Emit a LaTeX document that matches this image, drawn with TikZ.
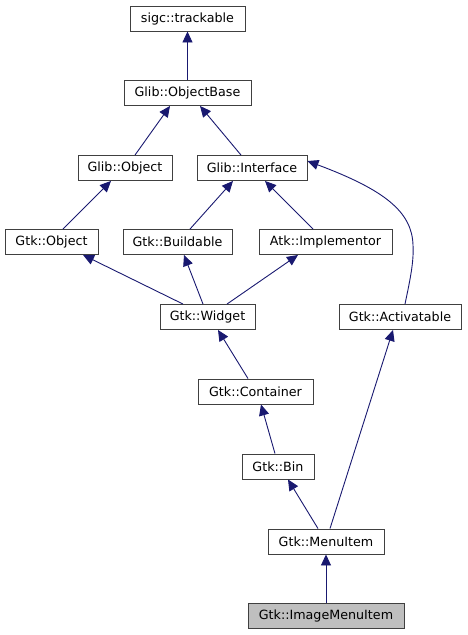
\documentclass[tikz,border=0pt]{standalone}
\usepackage{fontspec}
\setmainfont{DejaVu Sans}
\usetikzlibrary{arrows.meta}
\definecolor{edgeblue}{HTML}{191970}
\definecolor{boxline}{HTML}{404040}
\definecolor{grayfill}{HTML}{BFBFBF}
\tikzset{
  cls/.style={draw=boxline, line width=0.9pt, fill=white, minimum height=25pt, inner sep=0pt,
    font=\fontsize{12.7}{14}\selectfont, text=black},
  cur/.style={cls, fill=grayfill},
  inh/.style={draw=edgeblue, line width=0.9pt, -{Triangle[length=11pt,width=10pt,fill=edgeblue]}}
}
\begin{document}
\begin{tikzpicture}[x=1pt,y=-1pt]
\useasboundingbox (0,0) rectangle (467,635);
\node[cls, minimum width=115pt] (trk) at (187.5,18.5) {sigc::trackable};
\node[cls, minimum width=127pt] (ob) at (187.5,93) {Glib::ObjectBase};
\node[cls, minimum width=94pt] (gob) at (125,168) {Glib::Object};
\node[cls, minimum width=110pt] (gif) at (252,168) {Glib::Interface};
\node[cls, minimum width=93pt] (tob) at (51.5,242) {Gtk::Object};
\node[cls, minimum width=109pt] (bld) at (177.5,242) {Gtk::Buildable};
\node[cls, minimum width=133pt] (imp) at (325.5,242) {Atk::Implementor};
\node[cls, minimum width=95pt] (wid) at (207.5,317) {Gtk::Widget};
\node[cls, minimum width=122pt] (act) at (400,317) {Gtk::Activatable};
\node[cls, minimum width=115pt] (con) at (255.5,391.5) {Gtk::Container};
\node[cls, minimum width=72pt] (bin) at (278,466.5) {Gtk::Bin};
\node[cls, minimum width=116pt] (mi) at (326,541.5) {Gtk::MenuItem};
\node[cur, minimum width=156pt] (imi) at (326,615.5) {Gtk::ImageMenuItem};
\coordinate (bend) at (413,245);

\draw[inh] (ob.north) -- (trk.south);
\draw[inh] ([xshift=10pt]gob.north) -- ([xshift=-17.5pt]ob.south);
\draw[inh] ([xshift=-11pt]gif.north) -- ([xshift=12.5pt]ob.south);
\draw[inh] ([xshift=11.5pt]tob.north) -- ([xshift=-14pt]gob.south);
\draw[inh] ([xshift=12.5pt]bld.north) -- ([xshift=-19pt]gif.south);
\draw[inh] ([xshift=-12.5pt]imp.north) -- ([xshift=13pt]gif.south);
\draw[inh] ([xshift=5pt]act.north) .. controls (410,280) and (414,262) .. (bend)
   .. controls (412,212) and (385,190) .. ([yshift=7pt]gif.east);
\draw[inh] ([xshift=-24.5pt]wid.north) -- ([xshift=31.5pt]tob.south);
\draw[inh] ([xshift=-4.5pt]wid.north) -- ([xshift=6.5pt]bld.south);
\draw[inh] ([xshift=19.5pt]wid.north) -- ([xshift=-27.5pt]imp.south);
\draw[inh] ([xshift=-7.5pt]con.north) -- ([xshift=10.5pt]wid.south);
\draw[inh] ([xshift=-3pt]bin.north) -- ([xshift=5.5pt]con.south);
\draw[inh] ([xshift=-8pt]mi.north) -- ([xshift=10pt]bin.south);
\draw[inh] ([xshift=4pt]mi.north) -- ([xshift=-7pt]act.south);
\draw[inh] (imi.north) -- (mi.south);
\end{tikzpicture}
\end{document}
